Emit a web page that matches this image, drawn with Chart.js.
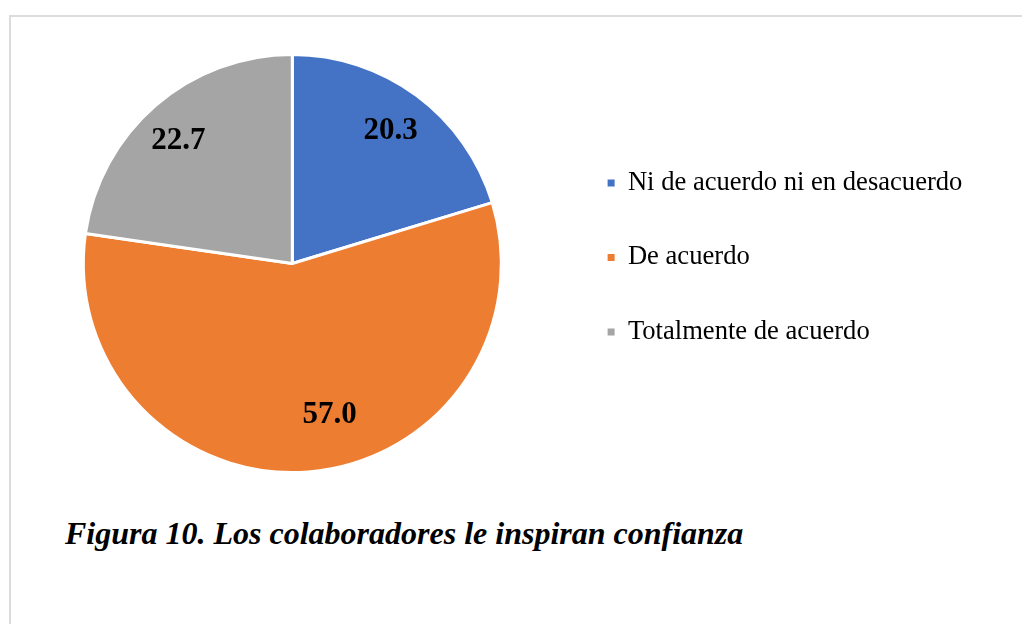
<!DOCTYPE html>
<html>
<head>
<meta charset="utf-8">
<script src="https://cdn.jsdelivr.net/npm/chart.js@4/dist/chart.umd.min.js"></script>
<style>
  body { margin: 0; background: #fff; width: 1022px; height: 624px; overflow: hidden; position: relative; }
  #frame { position: absolute; left: 9px; top: 15px; width: 1020px; height: 620px; border-left: 2px solid #dcdcdc; border-top: 2px solid #dcdcdc; }
  #wrap { position: absolute; left: 0; top: 0; width: 1022px; height: 500px; }
  #caption { position: absolute; left: 65px; top: 517px; font-family: "Liberation Serif", "Times New Roman", serif; font-weight: bold; font-style: italic; font-size: 32px; line-height: 32px; color: #000; white-space: nowrap; }
</style>
</head>
<body>
<div id="frame"></div>
<div id="wrap"><canvas id="pieCanvas"></canvas></div>
<div id="caption">Figura 10. Los colaboradores le inspiran confianza</div>
<script>
const categories = ["Ni de acuerdo ni en desacuerdo", "De acuerdo", "Totalmente de acuerdo"];
const values = [20.3, 57.0, 22.7];
const colors = ["#4472C4", "#ED7D31", "#A5A5A5"];

// small nudge so the labels sit where Excel put them
const labelNudge = [[0, 0], [25, -13], [-6, 2]];

const serif = "'Liberation Serif', 'Times New Roman', serif";

const valueLabels = {
  id: "valueLabels",
  afterDatasetsDraw(chart) {
    const ctx = chart.ctx;
    const meta = chart.getDatasetMeta(0);
    ctx.save();
    ctx.font = "bold 31px " + serif;
    ctx.fillStyle = "#000";
    ctx.textAlign = "center";
    ctx.textBaseline = "middle";
    meta.data.forEach((arc, i) => {
      const p = arc.getProps(["x", "y", "startAngle", "endAngle", "outerRadius"], true);
      const mid = (p.startAngle + p.endAngle) / 2;
      const r = p.outerRadius * 0.79;
      const x = p.x + Math.cos(mid) * r + labelNudge[i][0];
      const y = p.y + Math.sin(mid) * r + labelNudge[i][1];
      ctx.fillText(values[i].toFixed(1), x, y);
    });
    ctx.restore();
  },
};

const initChart = () => {
  const pieCanvas = document.getElementById("pieCanvas");
  return new Chart(pieCanvas, {
    type: "pie",
    data: {
      labels: categories,
      datasets: [
        {
          data: values,
          backgroundColor: colors,
          borderColor: "#ffffff",
          borderWidth: 3,
        },
      ],
    },
    options: {
      responsive: true,
      maintainAspectRatio: false,
      animation: false,
      layout: {
        padding: { left: 24.9, top: 53, bottom: 26, right: 49.6 },
      },
      plugins: {
        tooltip: { enabled: false },
        legend: {
          position: "right",
          align: "start",
          title: {
            display: true,
            text: "",
            font: { size: 12 },
            padding: { top: 54.4, bottom: 0 },
          },
          labels: {
            boxWidth: 7,
            boxHeight: 7,
            padding: 47.9,
            color: "#000",
            font: { family: serif, size: 26.6 },
            generateLabels: (chart) => {
              const items = Chart.overrides.pie.plugins.legend.labels.generateLabels(chart);
              return items.map((it) => ({ ...it, lineWidth: 0 }));
            },
          },
        },
      },
    },
    plugins: [valueLabels],
  });
};

document.addEventListener("DOMContentLoaded", () => {
  initChart();
});
</script>
</body>
</html>
